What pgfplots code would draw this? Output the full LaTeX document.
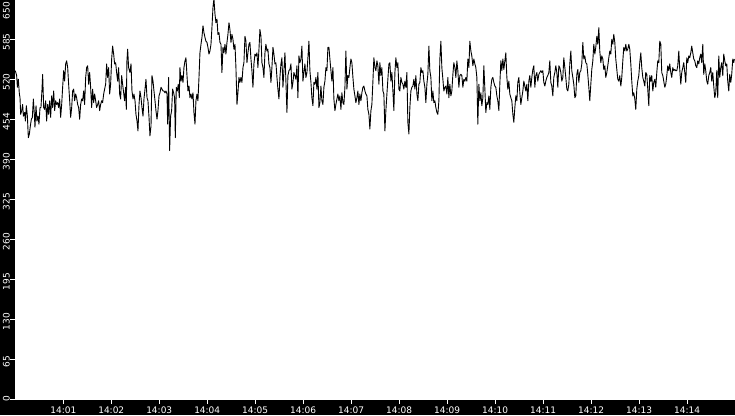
\documentclass[border=0pt]{standalone}
\usepackage{fontspec}
\setmainfont{DejaVu Sans}
\usepackage{pgfplots}
\pgfplotsset{compat=1.18}
\begin{document}
\begin{tikzpicture}[x=1pt,y=1pt]
\fill[black] (0,0) rectangle (735,415);
\begin{axis}[
  at={(14.5pt,15.5pt)}, anchor=south west,
  scale only axis, width=720.5pt, height=399.5pt,
  xmin=-1, xmax=900, ymin=0, ymax=650,
  axis background/.style={fill=white},
  axis x line*=bottom, axis y line*=left,
  axis line style={draw=none},
  tick align=outside,
  major tick length=4.5pt,
  tick style={white, line width=1pt},
  xtick={60,120,180,240,300,360,420,480,540,600,660,720,780,840},
  xticklabels={14:01,14:02,14:03,14:04,14:05,14:06,14:07,14:08,14:09,14:10,14:11,14:12,14:13,14:14},
  ytick={0,65,130,195,260,325,390,455,520,585,650},
  yticklabels={\rlap{0},65,130,195,260,325,390,454,520,585,\llap{650}},
  ticklabel style={font=\fontsize{9}{10}\selectfont, text=white},
  xticklabel style={anchor=north, inner sep=0pt, yshift=-3pt},
  yticklabel style={rotate=90, anchor=south, inner sep=0pt, xshift=-2pt},
  /pgf/number format/assume math mode=true,
]
\addplot[black, line width=0.9pt, line join=round, mark=none] coordinates {
(0,535) (1.7,527) (2.6,508) (3.8,521) (5.1,497) (5.9,491) (6.7,464) (8.0,470) (9.2,480) (10.1,461) (11.7,467) (12.6,453) (13.8,478) (15.1,461) (16.3,426) (17.6,432) (18.8,445) (20.1,456) (21.3,459) (22.6,489) (23.8,464) (24.6,443) (25.9,478) (27.1,453) (28.4,461) (29.6,448) (30.9,475) (32.1,475) (33.4,505) (34.2,529) (35.5,475) (36.7,472) (38.0,486) (39.2,453) (40.5,480) (41.7,464) (43.0,486) (44.2,459) (45.5,494) (46.7,475) (48.0,502) (49.2,470) (50.5,486) (51.7,480) (53.0,483) (54.2,475) (55.5,489) (56.7,459) (58.0,480) (59.2,508) (60.5,535) (61.7,518) (63.0,546) (64.2,551) (65.5,540) (66.7,513) (68.0,486) (69.2,459) (70.5,475) (71.7,502) (73.0,505) (74.2,486) (75.5,497) (76.7,491) (78.0,480) (79.2,475) (80.5,456) (81.7,480) (83.0,489) (84.2,486) (85.5,502) (86.7,480) (88.0,524) (89.2,540) (90.5,543) (91.7,513) (93.0,532) (94.2,508) (95.5,475) (96.7,505) (98.0,483) (99.2,497) (100.5,486) (101.7,475) (103.0,480) (104.2,486) (105.5,470) (106.7,480) (108.0,486) (109.2,483) (110.5,497) (111.7,505) (113.0,513) (114.2,546) (115.5,524) (116.7,540) (118.0,497) (119.2,513) (120.5,554) (121.7,575) (123.0,562) (124.2,546) (125.5,548) (126.7,532) (128.0,518) (129.2,540) (130.5,497) (131.7,489) (133.0,527) (134.2,513) (135.5,499) (136.7,486) (138.0,508) (138.8,472) (139.6,551) (140.5,570) (141.7,540)
(143.4,532) (144.7,546) (145.9,502) (147.2,489) (148.4,497) (149.7,486) (150.9,464) (152.2,453) (153.4,437) (154.7,480) (155.9,502) (157.2,491) (158.4,475) (159.7,461) (160.9,489) (162.2,505) (163.4,521) (164.7,491) (165.9,486) (167.2,459) (168.4,429) (169.7,445) (170.9,527) (172.2,518) (173.4,502) (174.7,486) (175.9,470) (177.2,456) (178.4,470) (179.7,494) (180.9,499) (182.2,508) (183.4,505) (184.7,502) (185.9,502) (187.2,499) (188.4,502) (189.7,497) (190.5,448) (191.7,524) (193.0,405) (194.2,461) (195.5,470) (196.7,505) (198.0,499) (199.2,491) (200.1,426) (201.3,508) (202.6,502) (203.8,513) (205.1,491) (205.9,540) (207.2,518) (208.4,527) (209.7,516) (210.9,540) (212.2,551) (213.4,556) (214.7,527) (215.9,502) (217.2,510) (218.4,491) (219.7,497) (220.9,489) (222.2,499) (223.4,467) (224.7,448) (225.9,486) (227.2,497) (228.4,486) (229.7,524) (230.9,564) (232.2,578) (233.4,589) (234.7,608) (235.9,597) (237.2,589) (238.4,583) (239.7,581) (240.9,573) (242.2,562) (243.4,567) (244.7,578) (245.9,605) (247.2,638) (248.4,652) (249.7,627) (250.9,613) (252.2,619) (253.4,594) (254.7,597) (255.9,581) (257.2,578) (258.4,532) (259.7,573) (260.9,564) (262.2,578) (263.4,562) (264.7,581) (265.9,594) (267.2,613) (268.4,602) (269.7,581) (270.9,594) (272.2,586) (273.4,570) (274.7,578) (275.9,540) (277.2,480) (278.4,499) (279.7,524) (280.9,516) (282.2,524) (283.4,516) (284.7,540) (285.9,548) (287.2,591) (288.4,583) (289.7,548) (290.9,564) (292.2,578)
(293.4,581) (294.7,554) (295.9,535) (297.2,508) (298.4,546) (299.7,562) (300.9,559) (302.2,564) (303.4,540) (304.7,570) (305.9,602) (307.2,591) (308.4,548) (309.7,540) (310.9,524) (312.2,564) (313.4,578) (314.7,567) (315.9,570) (317.2,546) (318.4,540) (319.7,516) (320.9,540) (322.2,573) (323.4,562) (324.7,546) (325.9,548) (327.2,524) (328.4,505) (329.7,489) (330.9,524) (332.2,546) (333.4,556) (334.7,508) (335.9,535) (337.2,564) (338.4,518) (339.7,467) (340.9,527) (342.2,535) (343.4,537) (344.7,546) (345.9,505) (347.2,516) (348.4,532) (349.7,527) (350.9,521) (352.2,543) (353.4,491) (354.7,559) (355.9,548) (357.2,554) (358.4,575) (359.7,518) (360.9,532) (362.2,546) (363.4,524) (364.7,532) (365.9,556) (367.2,583) (368.4,535) (369.7,516) (370.9,491) (372.2,478) (373.4,516) (374.7,513) (375.9,524) (377.2,505) (378.4,532) (379.7,475) (380.9,483) (382.2,510) (383.4,486) (384.7,480) (385.9,508) (387.2,518) (388.4,540) (389.7,535) (390.9,573) (392.2,573) (393.4,554) (394.7,535) (395.9,518) (397.2,540) (398.4,489) (399.7,470) (400.9,480) (402.2,489) (403.4,497) (404.7,486) (405.9,494) (407.2,472) (408.4,499) (409.7,483) (410.9,480) (412.2,508) (413.4,567) (414.7,505) (415.9,527) (417.2,524) (418.4,540) (419.7,554) (420.9,548) (422.2,524) (423.4,505) (424.7,494) (425.9,483) (427.2,491) (428.4,502) (429.7,480) (430.9,497) (432.2,486) (433.4,499) (434.7,508) (435.9,510) (437.2,502) (438.4,497) (439.7,494) (440.9,472) (442.2,464)
(443.4,440) (444.7,470) (445.9,480) (447.2,518) (448.4,556) (449.7,540) (450.9,535) (452.2,551) (453.4,543) (454.7,513) (455.9,548) (457.2,527) (458.4,540) (459.7,502) (460.9,497) (462.2,437) (463.4,470) (464.7,497) (465.9,521) (467.2,546) (468.4,548) (469.7,518) (470.9,532) (472.2,502) (473.4,470) (474.7,532) (475.9,556) (477.2,540) (478.4,548) (479.7,505) (480.9,502) (482.2,524) (483.4,516) (484.7,513) (485.9,505) (487.2,518) (488.4,508) (489.7,532) (490.9,451) (492.2,432) (493.4,475) (494.7,502) (495.9,508) (497.2,510) (498.4,521) (499.7,505) (500.9,527) (502.2,497) (503.4,486) (504.7,513) (505.9,516) (507.2,540) (508.4,532) (509.7,535) (510.9,518) (512.2,508) (513.4,483) (514.7,513) (515.9,529) (517.2,575) (518.4,535) (519.7,524) (520.9,486) (522.2,502) (523.4,483) (524.7,486) (525.9,475) (527.2,467) (528.4,464) (529.7,486) (530.9,554) (532.2,583) (533.4,540) (534.7,521) (535.9,502) (537.2,508) (538.4,510) (539.7,497) (540.9,524) (542.2,491) (543.4,513) (544.7,494) (545.9,502) (547.2,529) (548.4,548) (549.7,540) (550.9,524) (552.2,551) (553.4,535) (554.7,508) (555.9,527) (557.2,529) (558.4,527) (559.7,508) (560.9,521) (562.2,518) (563.4,524) (564.7,518) (565.9,554) (567.2,540) (568.4,583) (569.7,567) (570.9,559) (572.2,543) (573.4,554) (574.7,546) (575.9,540) (577.2,524) (578.4,448) (579.7,513) (580.9,486) (582.2,499) (583.4,478) (584.7,491) (585.9,543) (587.2,505) (588.4,467) (589.7,483) (590.9,480) (592.2,494)
(593.4,472) (594.7,508) (595.9,521) (597.2,524) (598.4,516) (599.7,510) (600.9,508) (602.2,494) (603.4,486) (604.7,470) (605.9,513) (607.2,551) (608.4,535) (609.7,554) (610.9,537) (612.2,551) (613.4,564) (614.7,524) (615.9,505) (617.2,518) (618.4,497) (619.7,491) (620.9,486) (622.2,464) (623.4,451) (624.7,475) (625.9,494) (627.2,486) (628.4,516) (629.7,524) (630.9,499) (632.2,480) (633.4,491) (634.7,502) (635.9,518) (637.2,510) (638.4,502) (639.7,513) (640.9,486) (642.2,518) (643.4,527) (644.7,508) (645.9,524) (647.2,537) (648.4,543) (649.7,508) (650.9,527) (652.2,532) (653.4,518) (654.7,529) (655.9,532) (657.2,535) (658.4,532) (659.7,535) (660.9,516) (662.2,510) (663.4,518) (664.7,524) (665.9,527) (667.2,532) (668.4,551) (669.7,516) (670.9,510) (672.2,494) (673.4,524) (674.7,532) (675.9,543) (677.2,532) (678.4,508) (679.7,543) (680.9,540) (682.2,532) (683.4,518) (684.7,524) (685.9,556) (687.2,540) (688.4,524) (689.7,505) (690.9,502) (692.2,513) (693.4,546) (694.7,567) (695.9,535) (697.2,524) (698.4,513) (699.7,491) (700.9,494) (702.2,529) (703.4,537) (704.7,516) (705.9,532) (707.2,535) (708.4,546) (709.7,581) (710.9,554) (712.2,559) (713.4,548) (714.7,546) (715.9,529) (717.2,508) (718.4,486) (719.7,513) (720.9,537) (722.2,551) (723.4,578) (724.7,562) (725.9,573) (727.2,591) (728.4,578) (729.7,605) (730.9,567) (732.2,548) (733.4,559) (734.7,554) (735.9,537) (737.2,543) (738.4,524) (739.7,532) (740.9,543) (742.2,556)
(743.4,567) (744.7,562) (745.9,586) (747.2,578) (748.4,594) (749.7,581) (750.9,554) (752.2,537) (753.4,521) (754.7,518) (755.9,527) (757.2,510) (758.4,524) (759.7,551) (760.9,573) (762.2,567) (763.4,578) (764.7,567) (765.9,570) (767.2,578) (768.4,570) (769.7,546) (770.9,518) (772.2,494) (773.4,499) (774.7,489) (775.9,472) (777.2,505) (778.4,518) (779.7,527) (780.9,548) (782.2,564) (783.4,540) (784.7,524) (785.9,518) (787.2,510) (788.4,532) (789.7,529) (790.9,505) (792.2,478) (793.4,527) (794.7,518) (795.9,527) (797.2,502) (798.4,516) (799.7,521) (800.9,508) (802.2,532) (803.4,551) (804.7,548) (805.9,583) (807.2,578) (808.4,532) (809.7,527) (810.9,518) (812.2,508) (813.4,513) (814.7,527) (815.9,543) (817.2,535) (818.4,546) (819.7,532) (820.9,524) (822.2,540) (823.4,535) (824.7,537) (825.9,535) (827.2,535) (828.4,543) (829.7,567) (830.9,537) (832.2,513) (833.4,532) (834.7,540) (835.9,548) (837.2,532) (838.4,516) (839.7,556) (840.9,548) (842.2,559) (843.4,556) (844.7,564) (845.9,575) (847.2,564) (848.4,554) (849.7,551) (850.9,543) (852.2,540) (853.4,551) (854.7,546) (855.9,556) (857.2,562) (858.4,548) (859.7,578) (860.9,529) (862.2,546) (863.4,535) (864.7,518) (865.9,513) (867.2,527) (868.4,532) (869.7,540) (870.9,518) (872.2,532) (873.4,510) (874.7,491) (875.9,499) (877.2,535) (878.4,491) (879.7,559) (880.9,524) (882.2,540) (883.4,548) (884.7,527) (885.9,562) (887.2,551) (888.4,543) (889.7,546) (890.9,518) (892.2,502) (893.4,529) (894.7,516) (895.9,529) (897.2,554) (898.4,548) (899.2,554)
};
\end{axis}
\pgfresetboundingbox
\useasboundingbox (0,0) rectangle (735,415);
\end{tikzpicture}
\end{document}
